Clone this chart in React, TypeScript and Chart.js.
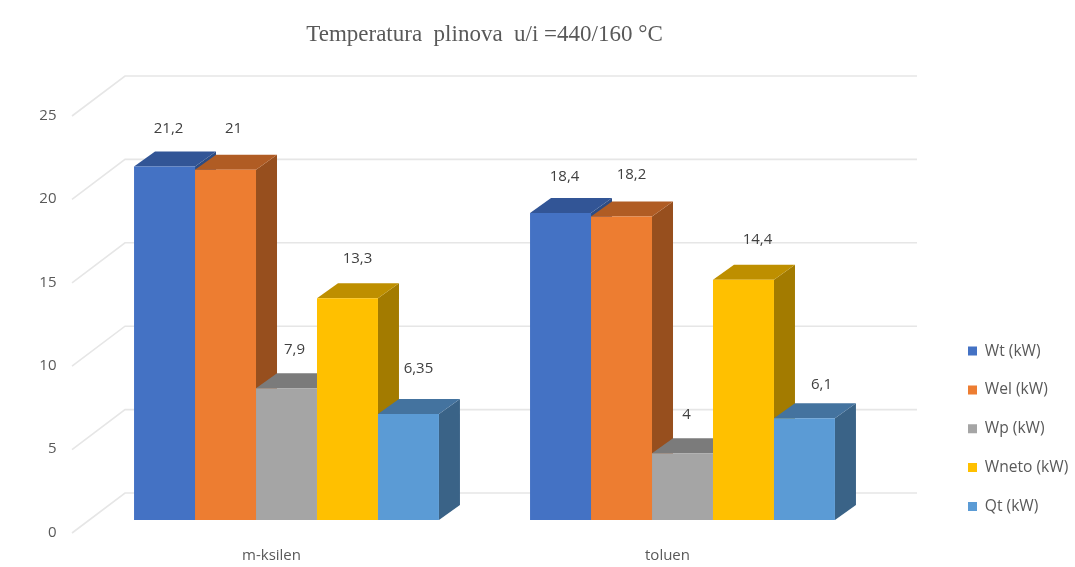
import React, { useEffect, useRef } from "react";
import { Chart, registerables } from "chart.js";

Chart.register(...registerables);

const categories = ["m-ksilen", "toluen"];
const seriesNames = ["Wt (kW)", "Wel (kW)", "Wp (kW)", "Wneto (kW)", "Qt (kW)"];
const wt = [21.2, 18.4];
const wel = [21, 18.2];
const wp = [7.9, 4];
const wneto = [13.3, 14.4];
const qt = [6.35, 6.1];
const allSeries = [wt, wel, wp, wneto, qt];

const frontColors = ["#4472C4", "#ED7D31", "#A5A5A5", "#FFC000", "#5B9BD5"];
const topColors = ["#325596", "#B05C24", "#7B7B7B", "#BE8F00", "#44739F"];
const sideColors = ["#2C4C84", "#974F1E", "#6A6A6A", "#A37B00", "#3A6387"];

const titleText = "Temperatura  plinova  u/i =440/160 °C";
const TEXT = "#595959";
const GRID = "#E6E6E6";
const FONT = "'Open Sans', sans-serif";

// 3D look: depth of a bar, and of the chart walls
const BAR_DX = 21;
const BAR_DY = -15;
const WALL_BACK_X = 125;
const WALL_FRONT_X = 72;
const WALL_RIGHT_X = 917;
const WALL_BACK_DY = -27;
const WALL_FRONT_DY = 13;

// Where each value label sits relative to the top-centre of its bar
const labelNudgeX = [[4, 4], [8, 10], [8, 4], [10, 14], [10, 17]];
const labelNudgeY = [[-39, -38], [-42, -43], [-40, -40], [-41, -42], [-47, -35]];

const fill = (ctx: CanvasRenderingContext2D, pts: number[][], color: string) => {
  ctx.fillStyle = color;
  ctx.beginPath();
  pts.forEach(([x, y], i) => (i ? ctx.lineTo(x, y) : ctx.moveTo(x, y)));
  ctx.closePath();
  ctx.fill();
};

const bars3d = {
  id: "bars3d",
  afterUpdate(chart: any) {
    // place the library legend at its spot at the right of the plot
    const lg = chart.legend;
    lg.left = 944.75;
    lg.right = 1075;
    lg.top = 320;
    lg.bottom = 567;
  },
  beforeDatasetsDraw(chart: any) {
    const { ctx, scales } = chart;
    const y = scales.y;
    ctx.save();
    ctx.strokeStyle = GRID;
    ctx.lineWidth = 1.6;
    y.ticks.forEach((t: any) => {
      const p = y.getPixelForValue(t.value);
      ctx.beginPath();
      ctx.moveTo(WALL_FRONT_X, p + WALL_FRONT_DY);
      ctx.lineTo(WALL_BACK_X, p + WALL_BACK_DY);
      ctx.lineTo(WALL_RIGHT_X, p + WALL_BACK_DY);
      ctx.stroke();
    });
    chart.data.datasets.forEach((_: any, d: number) => {
      const meta = chart.getDatasetMeta(d);
      meta.data.forEach((bar: any) => {
        const left = bar.x - bar.width / 2;
        const right = bar.x + bar.width / 2;
        const top = bar.y;
        const base = bar.base;
        fill(ctx, [[right, top], [right + BAR_DX, top + BAR_DY], [right + BAR_DX, base + BAR_DY], [right, base]], sideColors[d]);
        fill(ctx, [[left, top], [left + BAR_DX, top + BAR_DY], [right + BAR_DX, top + BAR_DY], [right, top]], topColors[d]);
        bar.draw(ctx, chart.chartArea);
      });
    });
    ctx.restore();
    return false;
  },
  afterDraw(chart: any) {
    const { ctx } = chart;
    ctx.save();
    ctx.fillStyle = "#404040";
    ctx.font = `15px ${FONT}`;
    ctx.textAlign = "center";
    ctx.textBaseline = "middle";
    chart.data.datasets.forEach((ds: any, d: number) => {
      chart.getDatasetMeta(d).data.forEach((bar: any, i: number) => {
        const text = String(ds.data[i]).replace(".", ",");
        ctx.fillText(text, bar.x + labelNudgeX[d][i], bar.y + labelNudgeY[d][i] + 1.5);
      });
    });
    ctx.restore();
  },
};

export default function App() {
  const ref = useRef<HTMLCanvasElement>(null);
  useEffect(() => {
    const chart = new Chart(ref.current!, {
      type: "bar",
      data: {
        labels: categories,
        datasets: seriesNames.map((label, d) => ({
          label,
          data: allSeries[d],
          backgroundColor: frontColors[d],
          borderWidth: 0,
          categoryPercentage: 0.77,
          barPercentage: 1,
        })),
      },
      options: {
        responsive: false,
        animation: false,
        layout: { padding: { left: 0, right: 74.5, top: 0, bottom: 0 } },
        plugins: {
          tooltip: { enabled: false },
          title: {
            display: true,
            text: titleText,
            fullSize: false,
            color: TEXT,
            font: { family: "'Liberation Serif', serif", size: 23, weight: "normal" },
            padding: { top: 21, bottom: 54.4 },
          },
          legend: {
            position: "right",
            align: "start",
            maxWidth: 120,
            labels: {
              boxWidth: 9,
              boxHeight: 9,
              padding: 23.25,
              color: TEXT,
              font: { family: FONT, size: 15.6 },
            },
          },
        },
        scales: {
          x: {
            grid: { display: false, drawTicks: false },
            border: { display: false },
            ticks: {
              color: TEXT,
              font: { family: FONT, size: 15 },
              maxRotation: 0,
              padding: 27,
              labelOffset: -15,
            },
            afterFit: (s: any) => {
              s.height = 47;
            },
          },
          y: {
            min: 0,
            max: 25,
            grid: { display: false, drawTicks: false },
            border: { display: false },
            ticks: {
              stepSize: 5,
              color: TEXT,
              font: { family: FONT, size: 15 },
              padding: 32,
              labelOffset: 12.5,
            },
            afterFit: (s: any) => {
              s.width = 88.5;
            },
          },
        },
      } as any,
      plugins: [bars3d as any],
    });
    return () => chart.destroy();
  }, []);
  return (
    <div style={{ position: "absolute", left: 0, top: 0, width: 1075, height: 567, background: "#fff" }}>
      <canvas ref={ref} width={1075} height={567} style={{ display: "block", filter: "blur(0.4px)" }} />
    </div>
  );
}
